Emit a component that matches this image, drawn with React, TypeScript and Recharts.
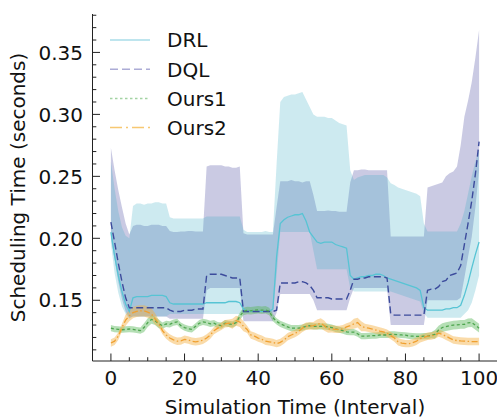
import { ComposedChart, Area, Line, XAxis, YAxis } from 'recharts'

// x positions of the samples (one per interval)
const steps = Array.from({ length: 101 }, (_, i) => i)

const xTicks = [0, 5, 10, 15, 20, 25, 30, 35, 40, 45, 50, 55, 60, 65, 70, 75, 80, 85, 90, 95, 100]
const xMajor = [0, 20, 40, 60, 80, 100]
const yTicks = [0.11, 0.12, 0.13, 0.14, 0.15, 0.16, 0.17, 0.18, 0.19, 0.2, 0.21, 0.22, 0.23, 0.24, 0.25, 0.26, 0.27, 0.28, 0.29, 0.3, 0.31, 0.32, 0.33, 0.34, 0.35, 0.36, 0.37, 0.38]
const yMajor = [0.15, 0.2, 0.25, 0.3, 0.35]

const drlMean = [
    0.205, 0.186, 0.17, 0.157, 0.147, 0.141, 0.152, 0.153, 0.153, 0.153, 0.153, 0.154, 0.154, 0.154, 0.154, 0.153,
    0.148, 0.147, 0.147, 0.147, 0.147, 0.147, 0.147, 0.147, 0.147, 0.147, 0.148, 0.148, 0.148, 0.148, 0.148, 0.148,
    0.149, 0.149, 0.149, 0.148, 0.143, 0.141, 0.141, 0.141, 0.141, 0.141, 0.141, 0.141, 0.143, 0.185, 0.212, 0.215,
    0.217, 0.218, 0.219, 0.219, 0.22, 0.214, 0.205, 0.201, 0.197, 0.196, 0.197, 0.197, 0.197, 0.195, 0.194, 0.193,
    0.192, 0.17, 0.167, 0.168, 0.169, 0.169, 0.17, 0.17, 0.171, 0.171, 0.17, 0.168, 0.167, 0.166, 0.165, 0.164,
    0.163, 0.162, 0.161, 0.16, 0.158, 0.144, 0.142, 0.142, 0.142, 0.142, 0.142, 0.143, 0.143, 0.144, 0.144, 0.146,
    0.154, 0.164, 0.176, 0.187, 0.197,
]
const drlLo = [
    0.196, 0.172, 0.156, 0.145, 0.139, 0.135, 0.137, 0.137, 0.137, 0.137, 0.137, 0.137, 0.137, 0.137, 0.137, 0.137,
    0.139, 0.139, 0.139, 0.139, 0.139, 0.139, 0.139, 0.139, 0.139, 0.139, 0.139, 0.139, 0.139, 0.139, 0.139, 0.139,
    0.139, 0.139, 0.139, 0.139, 0.14, 0.14, 0.14, 0.14, 0.14, 0.14, 0.14, 0.14, 0.14, 0.17, 0.205, 0.205,
    0.205, 0.205, 0.205, 0.205, 0.205, 0.205, 0.205, 0.19, 0.175, 0.175, 0.175, 0.175, 0.175, 0.175, 0.175, 0.175,
    0.175, 0.16, 0.157, 0.157, 0.157, 0.157, 0.157, 0.157, 0.157, 0.157, 0.157, 0.157, 0.157, 0.156, 0.155, 0.154,
    0.153, 0.152, 0.151, 0.15, 0.149, 0.14, 0.136, 0.136, 0.136, 0.136, 0.136, 0.136, 0.136, 0.136, 0.136, 0.136,
    0.139, 0.142, 0.148, 0.158, 0.17,
]
const drlHi = [
    0.262, 0.24, 0.222, 0.209, 0.202, 0.2, 0.226, 0.228, 0.228, 0.227, 0.228, 0.228, 0.229, 0.229, 0.228, 0.228,
    0.217, 0.216, 0.216, 0.216, 0.216, 0.216, 0.216, 0.216, 0.216, 0.216, 0.2175, 0.2175, 0.2175, 0.2175, 0.2175, 0.2175,
    0.2175, 0.2175, 0.2175, 0.2175, 0.207, 0.205, 0.205, 0.205, 0.205, 0.205, 0.206, 0.205, 0.205, 0.26, 0.31, 0.314,
    0.315, 0.316, 0.316, 0.317, 0.318, 0.312, 0.306, 0.3, 0.298, 0.298, 0.298, 0.297, 0.297, 0.295, 0.293, 0.292,
    0.291, 0.255, 0.247, 0.249, 0.25, 0.251, 0.251, 0.251, 0.251, 0.251, 0.251, 0.249, 0.2445, 0.243, 0.241, 0.24,
    0.239, 0.238, 0.237, 0.236, 0.234, 0.212, 0.2055, 0.2055, 0.2055, 0.2055, 0.2055, 0.2055, 0.2055, 0.2055, 0.2055, 0.212,
    0.222, 0.236, 0.25, 0.262, 0.272,
]

const dqlMean = [
    0.213, 0.197, 0.18, 0.165, 0.152, 0.144, 0.144, 0.144, 0.144, 0.144, 0.144, 0.144, 0.144, 0.144, 0.144, 0.144,
    0.142, 0.141, 0.141, 0.141, 0.142, 0.142, 0.142, 0.143, 0.143, 0.143, 0.17, 0.171, 0.171, 0.171, 0.171, 0.17,
    0.169, 0.168, 0.168, 0.168, 0.141, 0.141, 0.141, 0.141, 0.141, 0.141, 0.141, 0.141, 0.141, 0.142, 0.164, 0.164,
    0.164, 0.164, 0.164, 0.165, 0.165, 0.164, 0.162, 0.158, 0.152, 0.152, 0.152, 0.152, 0.151, 0.151, 0.151, 0.151,
    0.151, 0.158, 0.167, 0.167, 0.168, 0.168, 0.169, 0.169, 0.169, 0.169, 0.169, 0.168, 0.139, 0.138, 0.138, 0.138,
    0.138, 0.138, 0.138, 0.138, 0.138, 0.138, 0.158, 0.159, 0.159, 0.161, 0.165, 0.166, 0.17, 0.171, 0.172, 0.178,
    0.195, 0.212, 0.23, 0.252, 0.278,
]
const dqlLo = [
    0.2, 0.183, 0.165, 0.151, 0.141, 0.136, 0.137, 0.137, 0.137, 0.137, 0.137, 0.137, 0.137, 0.137, 0.137, 0.137,
    0.135, 0.135, 0.135, 0.135, 0.135, 0.135, 0.135, 0.135, 0.135, 0.135, 0.158, 0.16, 0.16, 0.16, 0.16, 0.16,
    0.16, 0.16, 0.16, 0.16, 0.133, 0.133, 0.133, 0.133, 0.133, 0.133, 0.133, 0.133, 0.133, 0.14, 0.155, 0.155,
    0.155, 0.155, 0.155, 0.155, 0.155, 0.155, 0.155, 0.15, 0.142, 0.142, 0.142, 0.142, 0.142, 0.142, 0.142, 0.142,
    0.142, 0.152, 0.16, 0.16, 0.16, 0.16, 0.16, 0.16, 0.16, 0.16, 0.16, 0.16, 0.13, 0.13, 0.13, 0.13,
    0.13, 0.13, 0.13, 0.13, 0.13, 0.13, 0.15, 0.15, 0.15, 0.15, 0.15, 0.15, 0.15, 0.15, 0.15, 0.152,
    0.168, 0.185, 0.201, 0.225, 0.255,
]
const dqlHi = [
    0.273, 0.255, 0.239, 0.225, 0.212, 0.203, 0.21, 0.211, 0.211, 0.21, 0.21, 0.211, 0.211, 0.211, 0.21, 0.21,
    0.206, 0.205, 0.205, 0.2055, 0.2055, 0.206, 0.206, 0.2055, 0.2055, 0.2055, 0.258, 0.259, 0.259, 0.259, 0.259, 0.258,
    0.258, 0.257, 0.257, 0.258, 0.204, 0.203, 0.203, 0.203, 0.203, 0.203, 0.203, 0.203, 0.203, 0.225, 0.246, 0.246,
    0.246, 0.247, 0.246, 0.246, 0.245, 0.246, 0.246, 0.235, 0.222, 0.222, 0.222, 0.2225, 0.222, 0.222, 0.2215, 0.2215,
    0.2215, 0.245, 0.255, 0.255, 0.2555, 0.2555, 0.255, 0.255, 0.255, 0.255, 0.255, 0.255, 0.2015, 0.2015, 0.2015, 0.2015,
    0.2015, 0.2015, 0.2015, 0.2015, 0.2015, 0.2015, 0.241, 0.242, 0.243, 0.244, 0.245, 0.25, 0.2525, 0.254, 0.258, 0.275,
    0.298, 0.311, 0.326, 0.346, 0.368,
]

const ours1Mean = [
    0.1275, 0.1268, 0.1265, 0.1262, 0.1265, 0.1268, 0.1265, 0.126, 0.1255, 0.128, 0.132, 0.1345, 0.1335, 0.131, 0.1295, 0.131,
    0.1305, 0.132, 0.1325, 0.1295, 0.128, 0.127, 0.1265, 0.129, 0.1315, 0.1325, 0.132, 0.131, 0.1315, 0.13, 0.1295, 0.1315,
    0.131, 0.1305, 0.132, 0.137, 0.141, 0.1418, 0.1415, 0.142, 0.1423, 0.142, 0.1423, 0.141, 0.136, 0.133, 0.131, 0.1298,
    0.1285, 0.1275, 0.1275, 0.1275, 0.128, 0.129, 0.1295, 0.129, 0.129, 0.1289, 0.1289, 0.1285, 0.128, 0.127, 0.1262, 0.1255,
    0.1245, 0.1243, 0.1243, 0.123, 0.121, 0.121, 0.1212, 0.1215, 0.1215, 0.122, 0.122, 0.122, 0.1225, 0.1225, 0.1222, 0.122,
    0.1218, 0.1212, 0.121, 0.1208, 0.1208, 0.121, 0.121, 0.1218, 0.1225, 0.126, 0.128, 0.1288, 0.1294, 0.13, 0.1302, 0.1305,
    0.1305, 0.1318, 0.132, 0.1298, 0.1275,
]
const ours1Lo = [
    0.125, 0.1243, 0.124, 0.1237, 0.124, 0.1243, 0.124, 0.1235, 0.123, 0.1245, 0.1285, 0.131, 0.13, 0.1275, 0.127, 0.1285,
    0.128, 0.1295, 0.13, 0.127, 0.1255, 0.1245, 0.124, 0.1265, 0.129, 0.13, 0.1295, 0.1285, 0.129, 0.1275, 0.127, 0.129,
    0.1285, 0.128, 0.1295, 0.134, 0.138, 0.1388, 0.1385, 0.139, 0.1393, 0.139, 0.1393, 0.138, 0.133, 0.1305, 0.1285, 0.1273,
    0.126, 0.125, 0.125, 0.125, 0.1255, 0.1265, 0.127, 0.1265, 0.1265, 0.1264, 0.1264, 0.126, 0.1255, 0.1245, 0.1237, 0.123,
    0.122, 0.1218, 0.1218, 0.1205, 0.1185, 0.1185, 0.1187, 0.119, 0.119, 0.1195, 0.1195, 0.1195, 0.12, 0.12, 0.1197, 0.1195,
    0.1193, 0.1187, 0.1185, 0.1183, 0.1183, 0.1185, 0.1185, 0.1193, 0.119, 0.1225, 0.1245, 0.1253, 0.1259, 0.1265, 0.1267, 0.127,
    0.127, 0.1283, 0.1285, 0.1263, 0.124,
]
const ours1Hi = [
    0.13, 0.1293, 0.129, 0.1287, 0.129, 0.1293, 0.129, 0.1285, 0.128, 0.1315, 0.1355, 0.138, 0.137, 0.1345, 0.132, 0.1335,
    0.133, 0.1345, 0.135, 0.132, 0.1305, 0.1295, 0.129, 0.1315, 0.134, 0.135, 0.1345, 0.1335, 0.134, 0.1325, 0.132, 0.134,
    0.1335, 0.133, 0.1345, 0.14, 0.144, 0.1448, 0.1445, 0.145, 0.1453, 0.145, 0.1453, 0.144, 0.139, 0.1355, 0.1335, 0.1323,
    0.131, 0.13, 0.13, 0.13, 0.1305, 0.1315, 0.132, 0.1315, 0.1315, 0.1314, 0.1314, 0.131, 0.1305, 0.1295, 0.1287, 0.128,
    0.127, 0.1268, 0.1268, 0.1255, 0.1235, 0.1235, 0.1237, 0.124, 0.124, 0.1245, 0.1245, 0.1245, 0.125, 0.125, 0.1247, 0.1245,
    0.1243, 0.1237, 0.1235, 0.1233, 0.1233, 0.1235, 0.1235, 0.1243, 0.126, 0.1295, 0.1315, 0.1323, 0.1329, 0.1335, 0.1337, 0.134,
    0.134, 0.1353, 0.1355, 0.1333, 0.131,
]

const ours2Mean = [
    0.1155, 0.117, 0.121, 0.128, 0.134, 0.1375, 0.14, 0.141, 0.1415, 0.1415, 0.1405, 0.139, 0.135, 0.131, 0.1255, 0.122,
    0.1195, 0.118, 0.117, 0.1172, 0.1185, 0.118, 0.117, 0.1165, 0.117, 0.1178, 0.1195, 0.122, 0.1255, 0.1275, 0.129, 0.131,
    0.1315, 0.131, 0.1335, 0.1325, 0.129, 0.1265, 0.122, 0.121, 0.1195, 0.1185, 0.117, 0.1165, 0.116, 0.115, 0.116, 0.118,
    0.1205, 0.122, 0.1232, 0.125, 0.1275, 0.129, 0.1292, 0.1295, 0.1305, 0.1315, 0.1295, 0.1268, 0.127, 0.1265, 0.1265, 0.127,
    0.1285, 0.1295, 0.131, 0.132, 0.129, 0.128, 0.1275, 0.1268, 0.126, 0.1252, 0.1245, 0.1235, 0.1215, 0.1195, 0.1165, 0.1155,
    0.115, 0.115, 0.1158, 0.117, 0.119, 0.12, 0.121, 0.1212, 0.122, 0.1235, 0.1225, 0.121, 0.1195, 0.118, 0.1175, 0.1172,
    0.117, 0.1168, 0.1167, 0.1167, 0.1167,
]
const ours2Lo = [
    0.1125, 0.114, 0.118, 0.125, 0.1295, 0.133, 0.1355, 0.1365, 0.137, 0.137, 0.136, 0.1345, 0.1305, 0.128, 0.1225, 0.119,
    0.1165, 0.115, 0.114, 0.1142, 0.1155, 0.115, 0.114, 0.1135, 0.114, 0.1148, 0.1165, 0.119, 0.1225, 0.1245, 0.126, 0.128,
    0.1285, 0.127, 0.1295, 0.1285, 0.125, 0.1235, 0.119, 0.118, 0.1165, 0.1155, 0.114, 0.1135, 0.113, 0.112, 0.113, 0.115,
    0.1175, 0.119, 0.1202, 0.122, 0.1245, 0.126, 0.1262, 0.1265, 0.1265, 0.1275, 0.1255, 0.1238, 0.124, 0.1235, 0.1235, 0.124,
    0.1255, 0.1265, 0.127, 0.128, 0.125, 0.125, 0.1245, 0.1238, 0.123, 0.1222, 0.1215, 0.1205, 0.1185, 0.1165, 0.1135, 0.1125,
    0.112, 0.112, 0.1128, 0.114, 0.116, 0.117, 0.118, 0.1182, 0.119, 0.1205, 0.1195, 0.118, 0.1165, 0.115, 0.1145, 0.1142,
    0.114, 0.1138, 0.1137, 0.1137, 0.1137,
]
const ours2Hi = [
    0.1185, 0.12, 0.124, 0.131, 0.1385, 0.142, 0.1445, 0.1455, 0.146, 0.146, 0.145, 0.1435, 0.1395, 0.134, 0.1285, 0.125,
    0.1225, 0.121, 0.12, 0.1202, 0.1215, 0.121, 0.12, 0.1195, 0.12, 0.1208, 0.1225, 0.125, 0.1285, 0.1305, 0.132, 0.134,
    0.1345, 0.135, 0.1375, 0.1365, 0.133, 0.1295, 0.125, 0.124, 0.1225, 0.1215, 0.12, 0.1195, 0.119, 0.118, 0.119, 0.121,
    0.1235, 0.125, 0.1262, 0.128, 0.1305, 0.132, 0.1322, 0.1325, 0.1345, 0.1355, 0.1335, 0.1298, 0.13, 0.1295, 0.1295, 0.13,
    0.1315, 0.1325, 0.135, 0.136, 0.133, 0.131, 0.1305, 0.1298, 0.129, 0.1282, 0.1275, 0.1265, 0.1245, 0.1225, 0.1195, 0.1185,
    0.118, 0.118, 0.1188, 0.12, 0.122, 0.123, 0.124, 0.1242, 0.125, 0.1265, 0.1255, 0.124, 0.1225, 0.121, 0.1205, 0.1202,
    0.12, 0.1198, 0.1197, 0.1197, 0.1197,
]

const chartData = steps.map((x, i) => ({
    x,
    drl: drlMean[i],
    drlBand: [drlLo[i], drlHi[i]],
    dql: dqlMean[i],
    dqlBand: [dqlLo[i], dqlHi[i]],
    ours1: ours1Mean[i],
    ours1Band: [ours1Lo[i], ours1Hi[i]],
    ours2: ours2Mean[i],
    ours2Band: [ours2Lo[i], ours2Hi[i]],
}))

const FONT = '"DejaVu Sans", sans-serif'
const SPINE = '#222'
const MAJOR_LEN = 7.5
const MINOR_LEN = 3.8

const isMajorY = (v: number) => yMajor.some((m) => Math.abs(m - v) < 1e-6)

function BottomTick({ x, y, payload }: any) {
    const major = xMajor.includes(payload.value)
    return (
        <g>
            <line x1={x} x2={x} y1={y} y2={y - (major ? MAJOR_LEN : MINOR_LEN)} stroke={SPINE} strokeWidth={1} />
            {major && (
                <text x={x} y={y + 24} textAnchor="middle" fontSize={20} fontFamily={FONT} fill="#111">
                    {payload.value}
                </text>
            )}
        </g>
    )
}

function TopTick({ x, y, payload }: any) {
    const major = xMajor.includes(payload.value)
    return <line x1={x} x2={x} y1={y} y2={y + (major ? MAJOR_LEN : MINOR_LEN)} stroke={SPINE} strokeWidth={1} />
}

function LeftTick({ x, y, payload }: any) {
    const major = isMajorY(payload.value)
    return (
        <g>
            <line x1={x} x2={x + (major ? MAJOR_LEN : MINOR_LEN)} y1={y} y2={y} stroke={SPINE} strokeWidth={1} />
            {major && (
                <text x={x - 9.5} y={y + 7.2} textAnchor="end" fontSize={20} fontFamily={FONT} fill="#111">
                    {payload.value.toFixed(2)}
                </text>
            )}
        </g>
    )
}

function RightTick({ x, y, payload }: any) {
    const major = isMajorY(payload.value)
    return <line x1={x} x2={x - (major ? MAJOR_LEN : MINOR_LEN)} y1={y} y2={y} stroke={SPINE} strokeWidth={1} />
}

const legendItems = [
    { label: 'DRL', color: '#a9dde8', dash: undefined },
    { label: 'DQL', color: '#acacd6', dash: '8 4' },
    { label: 'Ours1', color: '#a3d3a3', dash: '2.5 2.5' },
    { label: 'Ours2', color: '#f7c872', dash: '12 4 2 4' },
]

export default function App() {
    return (
        <div style={{ position: 'fixed', left: 0, top: 0, width: 497, height: 418, overflow: 'hidden', background: '#fff' }}>
            <ComposedChart width={510} height={418} data={chartData} margin={{ top: 14, right: 12.5, bottom: 0, left: 0 }}>
                <XAxis
                    xAxisId="b"
                    dataKey="x"
                    type="number"
                    domain={[-5, 105]}
                    allowDataOverflow
                    ticks={xTicks}
                    interval={0}
                    height={57}
                    tickSize={0}
                    tickMargin={0}
                    tickLine={false}
                    axisLine={{ stroke: SPINE, strokeWidth: 1 }}
                    tick={<BottomTick />}
                />
                <XAxis
                    xAxisId="t"
                    orientation="top"
                    dataKey="x"
                    type="number"
                    domain={[-5, 105]}
                    allowDataOverflow
                    ticks={xTicks}
                    interval={0}
                    height={0}
                    tickSize={0}
                    tickMargin={0}
                    tickLine={false}
                    axisLine={{ stroke: SPINE, strokeWidth: 1 }}
                    tick={<TopTick />}
                />
                <YAxis
                    yAxisId="l"
                    type="number"
                    domain={[0.101, 0.381]}
                    allowDataOverflow
                    ticks={yTicks}
                    interval={0}
                    width={92.5}
                    tickSize={0}
                    tickMargin={0}
                    tickLine={false}
                    axisLine={{ stroke: SPINE, strokeWidth: 1 }}
                    tick={<LeftTick />}
                />
                <YAxis
                    yAxisId="r"
                    orientation="right"
                    type="number"
                    domain={[0.101, 0.381]}
                    allowDataOverflow
                    ticks={yTicks}
                    interval={0}
                    width={0}
                    tickSize={0}
                    tickMargin={0}
                    tickLine={false}
                    axisLine={{ stroke: SPINE, strokeWidth: 1 }}
                    tick={<RightTick />}
                />

                <Area xAxisId="b" yAxisId="l" type="linear" dataKey="dqlBand" stroke="none" fill="#7a7ab8" fillOpacity={0.4} isAnimationActive={false} />
                <Area xAxisId="b" yAxisId="l" type="linear" dataKey="drlBand" stroke="none" fill="#37abc3" fillOpacity={0.25} isAnimationActive={false} />
                <Area xAxisId="b" yAxisId="l" type="linear" dataKey="ours1Band" stroke="none" fill="#5cb85c" fillOpacity={0.45} isAnimationActive={false} />
                <Area xAxisId="b" yAxisId="l" type="linear" dataKey="ours2Band" stroke="none" fill="#f5b041" fillOpacity={0.45} isAnimationActive={false} />

                <Line xAxisId="b" yAxisId="l" type="linear" dataKey="drl" stroke="#57c4d4" strokeWidth={1.3} dot={false} isAnimationActive={false} />
                <Line xAxisId="b" yAxisId="l" type="linear" dataKey="dql" stroke="#3c4b9c" strokeWidth={1.4} strokeDasharray="7 3.5" dot={false} isAnimationActive={false} />
                <Line xAxisId="b" yAxisId="l" type="linear" dataKey="ours1" stroke="#4ea54e" strokeWidth={1.3} strokeDasharray="3 2.5" dot={false} isAnimationActive={false} />
                <Line xAxisId="b" yAxisId="l" type="linear" dataKey="ours2" stroke="#f0a030" strokeWidth={1.3} strokeDasharray="6 2.5 1.5 2.5" dot={false} isAnimationActive={false} />
            </ComposedChart>

            <svg width={497} height={418} style={{ position: 'absolute', left: 0, top: 0, pointerEvents: 'none' }}>
                {legendItems.map((item, i) => {
                    const cy = 40 + i * 29.2
                    return (
                        <g key={item.label}>
                            <line x1={110} x2={150} y1={cy} y2={cy} stroke={item.color} strokeWidth={1.5} strokeDasharray={item.dash} />
                            <text x={167} y={cy + 7.3} fontSize={20} fontFamily={FONT} fill="#111">
                                {item.label}
                            </text>
                        </g>
                    )
                })}
                <text x={295} y={414} textAnchor="middle" fontSize={20} fontFamily={FONT} fill="#111">
                    Simulation Time (Interval)
                </text>
                <text transform="translate(25, 187.5) rotate(-90)" textAnchor="middle" fontSize={20} fontFamily={FONT} fill="#111">
                    Scheduling Time (seconds)
                </text>
            </svg>
        </div>
    )
}
